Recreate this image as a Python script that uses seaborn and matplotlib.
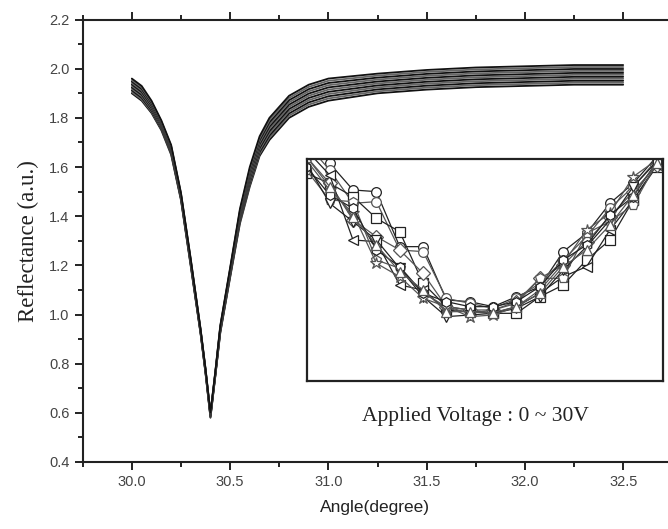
import numpy as np
import pandas as pd
import matplotlib
matplotlib.use("Agg")
import matplotlib.pyplot as plt
from matplotlib.ticker import MultipleLocator
import seaborn as sns

# ---------------- data ----------------
angles = [30.00, 30.05, 30.10, 30.15, 30.20, 30.25, 30.30, 30.35, 30.375, 30.40,
          30.425, 30.45, 30.50, 30.55, 30.60, 30.65, 30.70, 30.80, 30.90, 31.00,
          31.25, 31.50, 31.75, 32.00, 32.25, 32.50]

v00 = [1.900, 1.870, 1.820, 1.750, 1.650, 1.465, 1.195, 0.920, 0.760, 0.580, 0.750, 0.925, 1.150, 1.370, 1.520, 1.645, 1.710, 1.800, 1.845, 1.870, 1.900, 1.915, 1.925, 1.930, 1.935, 1.935]
v03 = [1.905, 1.875, 1.825, 1.755, 1.655, 1.470, 1.200, 0.922, 0.762, 0.582, 0.752, 0.928, 1.154, 1.376, 1.528, 1.653, 1.719, 1.809, 1.854, 1.879, 1.908, 1.923, 1.933, 1.938, 1.943, 1.943]
v06 = [1.912, 1.882, 1.830, 1.758, 1.658, 1.471, 1.201, 0.924, 0.764, 0.584, 0.754, 0.931, 1.158, 1.382, 1.536, 1.661, 1.728, 1.818, 1.863, 1.888, 1.916, 1.931, 1.941, 1.946, 1.951, 1.951]
v09 = [1.918, 1.888, 1.835, 1.762, 1.662, 1.474, 1.204, 0.926, 0.766, 0.586, 0.756, 0.934, 1.162, 1.388, 1.544, 1.669, 1.737, 1.827, 1.872, 1.897, 1.924, 1.939, 1.949, 1.954, 1.959, 1.959]
v12 = [1.924, 1.894, 1.840, 1.766, 1.666, 1.477, 1.207, 0.928, 0.768, 0.588, 0.758, 0.937, 1.166, 1.394, 1.552, 1.677, 1.746, 1.836, 1.881, 1.906, 1.932, 1.947, 1.957, 1.962, 1.967, 1.967]
v15 = [1.930, 1.900, 1.845, 1.770, 1.670, 1.480, 1.210, 0.930, 0.770, 0.590, 0.760, 0.940, 1.170, 1.400, 1.560, 1.685, 1.755, 1.845, 1.890, 1.915, 1.940, 1.955, 1.965, 1.970, 1.975, 1.975]
v18 = [1.936, 1.906, 1.850, 1.774, 1.674, 1.483, 1.213, 0.932, 0.772, 0.592, 0.762, 0.943, 1.174, 1.406, 1.568, 1.693, 1.764, 1.854, 1.899, 1.924, 1.948, 1.963, 1.973, 1.978, 1.983, 1.983]
v21 = [1.942, 1.912, 1.855, 1.778, 1.678, 1.486, 1.216, 0.934, 0.774, 0.594, 0.764, 0.946, 1.178, 1.412, 1.576, 1.701, 1.773, 1.863, 1.908, 1.933, 1.956, 1.971, 1.981, 1.986, 1.991, 1.991]
v24 = [1.948, 1.918, 1.860, 1.782, 1.682, 1.489, 1.219, 0.936, 0.776, 0.596, 0.766, 0.949, 1.182, 1.418, 1.584, 1.709, 1.782, 1.872, 1.917, 1.942, 1.964, 1.979, 1.989, 1.994, 1.999, 1.999]
v27 = [1.954, 1.924, 1.865, 1.786, 1.686, 1.492, 1.222, 0.938, 0.778, 0.598, 0.768, 0.952, 1.186, 1.424, 1.592, 1.717, 1.791, 1.881, 1.926, 1.951, 1.972, 1.987, 1.997, 2.002, 2.007, 2.007]
v30 = [1.960, 1.930, 1.870, 1.790, 1.690, 1.495, 1.225, 0.940, 0.780, 0.600, 0.770, 0.955, 1.190, 1.430, 1.600, 1.725, 1.800, 1.890, 1.935, 1.960, 1.980, 1.995, 2.005, 2.010, 2.015, 2.015]

voltages = ["0V", "3V", "6V", "9V", "12V", "15V", "18V", "21V", "24V", "27V", "30V"]
main_series = [v00, v03, v06, v09, v12, v15, v18, v21, v24, v27, v30]

# inset (zoom of the dip, arbitrary units), sample index 0..15
inset_idx = list(range(16))
in_a = [7.60, 6.60, 5.80, 5.75, 4.10, 4.10, 2.50, 2.45, 2.30, 2.60, 2.90, 3.95, 4.50, 5.40, 6.00, 6.80]
in_b = [7.20, 6.40, 5.40, 5.45, 4.00, 3.95, 2.55, 2.40, 2.25, 2.55, 3.00, 3.70, 4.40, 5.25, 5.90, 6.70]
in_c = [6.30, 6.00, 5.60, 4.95, 4.55, 3.00, 2.30, 2.20, 2.10, 2.10, 2.60, 2.95, 3.70, 4.30, 5.50, 6.50]
in_d = [6.80, 6.00, 4.90, 4.40, 4.00, 3.30, 2.30, 2.20, 2.20, 2.45, 3.15, 3.55, 4.25, 5.00, 5.75, 6.55]
in_e = [7.00, 6.25, 4.30, 4.25, 2.95, 2.80, 2.20, 2.15, 2.10, 2.30, 2.70, 3.20, 3.50, 4.60, 5.50, 6.55]
in_f = [6.40, 5.50, 5.45, 3.70, 3.45, 2.70, 2.30, 2.10, 2.20, 2.40, 3.15, 3.15, 4.50, 4.85, 5.35, 6.60]
in_g = [6.60, 5.40, 4.85, 4.30, 3.45, 2.60, 2.00, 2.05, 2.10, 2.25, 2.60, 3.40, 4.10, 4.90, 5.90, 6.65]
in_h = [6.70, 5.80, 5.10, 3.60, 3.20, 2.55, 2.30, 2.00, 2.05, 2.30, 2.80, 3.60, 4.60, 5.10, 6.20, 6.70]
in_i = [6.50, 5.65, 5.25, 4.00, 3.50, 2.70, 2.45, 2.30, 2.30, 2.45, 2.90, 3.70, 4.15, 5.05, 5.60, 6.65]
in_j = [6.80, 5.90, 5.00, 4.15, 3.35, 2.80, 2.15, 2.15, 2.12, 2.30, 2.70, 3.50, 4.00, 4.75, 5.65, 6.60]
inset_series = [in_a, in_b, in_c, in_d, in_e, in_f, in_g, in_h, in_i, in_j]
inset_markers = ["o", "o", "s", "D", "<", "p", "v", "*", "h", "^"]

# ---------------- figure ----------------
sns.set_theme(style="white")
plt.rcParams["font.family"] = ["Liberation Sans", "DejaVu Sans"]

fig = plt.figure(figsize=(6.68, 5.29), dpi=100)
ax = fig.add_axes([0.1238, 0.1267, 1.0 - 0.1238, 0.963 - 0.1267])
ax.set_facecolor("white")

df = pd.DataFrame({
    "angle": np.tile(angles, len(main_series)),
    "refl": np.concatenate(main_series),
    "voltage": np.repeat(voltages, len(angles)),
})
pal = ["#111111" if i % 2 == 0 else "#666666" for i in range(len(voltages))]
sns.lineplot(data=df, x="angle", y="refl", hue="voltage", palette=pal,
             legend=False, linewidth=1.3, ax=ax, sort=False, estimator=None)

ax.set_xlim(29.75, 32.728)
ax.set_ylim(0.4, 2.2)
ax.xaxis.set_major_locator(MultipleLocator(0.5))
ax.xaxis.set_minor_locator(MultipleLocator(0.25))
ax.yaxis.set_major_locator(MultipleLocator(0.2))
ax.yaxis.set_minor_locator(MultipleLocator(0.1))
ax.xaxis.set_major_formatter(matplotlib.ticker.FormatStrFormatter("%.1f"))
ax.yaxis.set_major_formatter(matplotlib.ticker.FormatStrFormatter("%.1f"))
ax.tick_params(which="both", direction="out", color="#222222", width=1.4,
               top=True, bottom=True, left=True, right=False,
               labelsize=10.5, labelcolor="#444444")
ax.tick_params(which="major", length=6)
ax.tick_params(which="minor", length=3.5)
for s in ["left", "top", "bottom"]:
    ax.spines[s].set_color("#222222")
    ax.spines[s].set_linewidth(1.5)
ax.spines["right"].set_visible(False)

ax.set_xlabel("Angle(degree)", fontsize=12.5, color="#222222", labelpad=8)
ax.set_ylabel("Reflectance (a.u.)", fontsize=16.5, color="#222222",
              family=["Liberation Serif", "DejaVu Serif"], labelpad=7)

fig.text(475 / 668, 1 - 417 / 529, "Applied Voltage : 0 ~ 30V", fontsize=15.5,
         family=["Liberation Serif", "DejaVu Serif"], color="#222222",
         ha="center", va="center")

# ---------------- inset ----------------
ins = fig.add_axes([307 / 668, (529 - 381) / 529, (662.7 - 307) / 668, (381 - 159.3) / 529])
ins.set_facecolor("white")
for k, (vals, mk) in enumerate(zip(inset_series, inset_markers)):
    col = "#222222" if k % 2 == 0 else "#555555"
    sns.lineplot(x=inset_idx, y=vals, ax=ins, color=col, linewidth=0.9,
                 marker=mk, markersize=7 if mk != "*" else 9,
                 markerfacecolor="white", markeredgecolor=col, markeredgewidth=0.9,
                 legend=False)
ins.set_xlim(0.03, 15.26)
ins.set_ylim(0.07, 6.72)
ins.set_xticks([])
ins.set_yticks([])
ins.set_xlabel("")
ins.set_ylabel("")
for s in ins.spines.values():
    s.set_visible(True)
    s.set_color("#222222")
    s.set_linewidth(1.6)

fig.savefig("out.png", dpi=100, facecolor="white")
